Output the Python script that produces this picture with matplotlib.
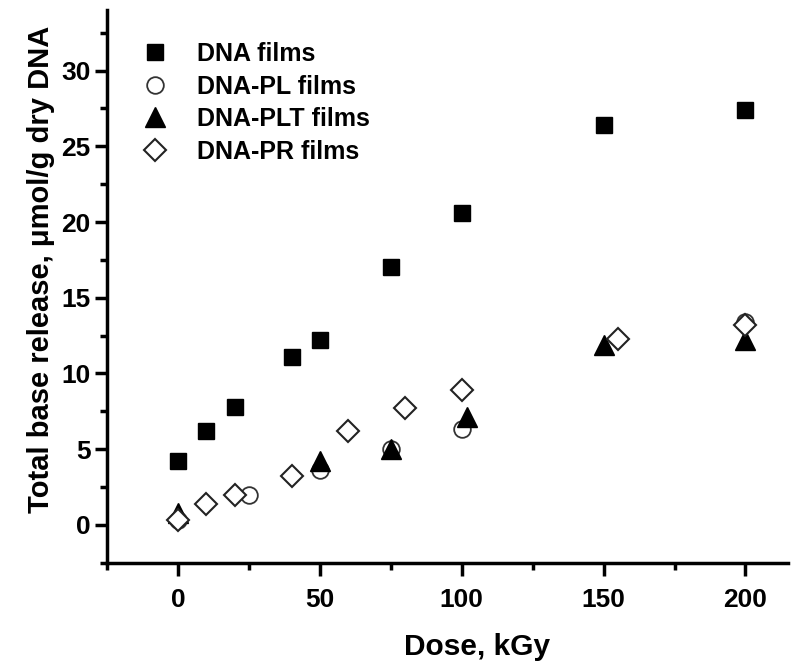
import matplotlib
matplotlib.use("Agg")
import matplotlib.pyplot as plt

plt.rcParams['font.family'] = ['Liberation Sans', 'DejaVu Sans']
plt.rcParams['font.weight'] = 'bold'

# Data
dna_x = [0, 10, 20, 40, 50, 75, 100, 150, 200]
dna_y = [4.2, 6.2, 7.8, 11.1, 12.2, 17.0, 20.6, 26.4, 27.4]

pl_x = [0, 25, 50, 75, 100, 200]
pl_y = [0.3, 2.0, 3.6, 5.0, 6.3, 13.4]

plt_x = [0, 50, 75, 102, 150, 200]
plt_y = [0.8, 4.2, 5.0, 7.1, 11.9, 12.2]

pr_x = [0, 10, 20, 40, 60, 80, 100, 155, 200]
pr_y = [0.3, 1.4, 2.0, 3.2, 6.2, 7.7, 8.9, 12.3, 13.2]

labels = ["DNA films", "DNA-PL films", "DNA-PLT films", "DNA-PR films"]

fig = plt.figure(figsize=(8.0, 6.71), dpi=100)
ax = fig.add_axes([0.134, 0.1614, 0.851, 0.8236])

ax.plot(dna_x, dna_y, ls='none', marker='s', ms=12, color='black', label=labels[0], zorder=3)
ax.plot(pl_x, pl_y, ls='none', marker='o', ms=12, mfc='white', mec='#333333', mew=1.3, label=labels[1], zorder=3)
ax.plot(plt_x, plt_y, ls='none', marker='^', ms=14, color='black', label=labels[2], zorder=4)
ax.plot(pr_x, pr_y, ls='none', marker='D', ms=11.5, mfc='white', mec='#222222', mew=1.5, label=labels[3], zorder=5)

ax.set_xlim(-25, 215)
ax.set_ylim(-2.5, 34)
ax.set_xticks([0, 50, 100, 150, 200])
ax.set_xticks([-25, 25, 75, 125, 175], minor=True)
ax.set_yticks([0, 5, 10, 15, 20, 25, 30])
ax.set_yticks([-2.5, 2.5, 7.5, 12.5, 17.5, 22.5, 27.5, 32.5], minor=True)

for s in ['top', 'right']:
    ax.spines[s].set_visible(False)
for s in ['left', 'bottom']:
    ax.spines[s].set_linewidth(2.5)

ax.tick_params(which='major', direction='out', length=9, width=2.5, labelsize=19)
ax.tick_params(axis='x', which='major', pad=9)
ax.tick_params(axis='y', which='major', pad=3)
ax.tick_params(which='minor', direction='out', length=5, width=2.5)

ax.set_xlabel("Dose, kGy", fontsize=21.5, fontweight='bold')
ax.set_ylabel("Total base release, μmol/g dry DNA", fontsize=21, fontweight='bold')
ax.xaxis.set_label_coords(0.543, -0.128)
ax.yaxis.set_label_coords(-0.076, 0.53)

leg = ax.legend(loc='upper left', bbox_to_anchor=(0.033, 0.96), frameon=False,
                fontsize=18, handletextpad=1.1, labelspacing=0.34, handlelength=1.2,
                borderaxespad=0)

fig.savefig("out.png", dpi=100)
